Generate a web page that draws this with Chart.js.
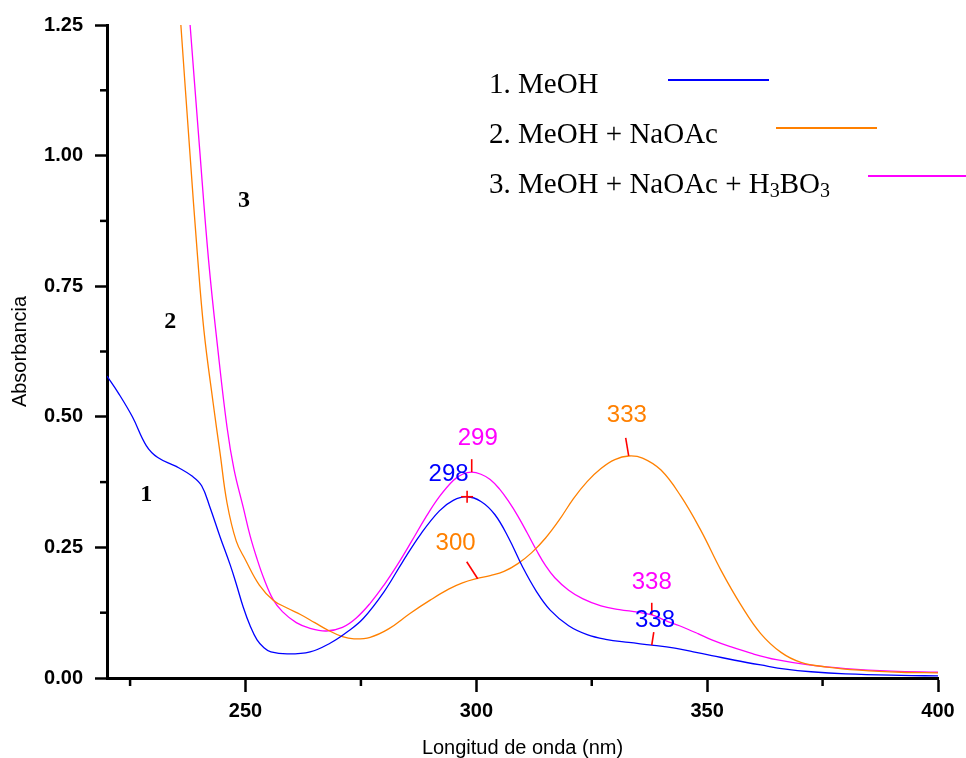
<!DOCTYPE html>
<html lang="es">
<head>
    <meta charset="UTF-8">
    <title>Espectro UV</title>
    <style>
        body { margin: 0; background: #fff; }
        canvas { display: block; }
    </style>
</head>
<body>
    <canvas id="uvChart" width="966" height="758"></canvas>
    <script src="https://cdn.jsdelivr.net/npm/chart.js"></script>
    <script>
        // 1. MeOH
        const meohNm = [220, 222.5, 225.5, 228.5, 231, 235, 238.5, 240.5, 242.3, 244.5, 246.7, 248, 249.5, 251, 252.5, 254, 255.5, 259, 264, 268.4, 272, 275.5, 280, 284, 288, 292, 295, 298, 301, 304, 307, 310, 313, 316, 320, 324, 328, 333, 338, 343, 347, 351, 356, 361.6, 367, 372.5, 380, 392, 400];
        const meohAbs = [0.578, 0.545, 0.500, 0.445, 0.422, 0.405, 0.386, 0.368, 0.327, 0.270, 0.216, 0.180, 0.136, 0.100, 0.073, 0.058, 0.050, 0.046, 0.050, 0.067, 0.088, 0.114, 0.165, 0.222, 0.276, 0.320, 0.340, 0.347, 0.338, 0.313, 0.268, 0.213, 0.166, 0.130, 0.100, 0.083, 0.074, 0.068, 0.063, 0.057, 0.050, 0.043, 0.034, 0.025, 0.017, 0.012, 0.008, 0.005, 0.004];

        // 2. MeOH + NaOAc
        const naoacNm = [235, 236, 238, 239.5, 241, 243, 244.5, 246, 248, 250, 253, 256, 259, 262, 265, 268, 271, 273.5, 277, 281, 285.7, 290, 294, 297, 300, 303, 306, 309, 312, 315, 318, 321, 324, 327, 330, 333, 336, 340, 344.3, 348.6, 353, 357.3, 361.6, 366, 370.3, 376, 383, 392, 400];
        const naoacAbs = [1.38, 1.25, 1.00, 0.82, 0.665, 0.526, 0.43, 0.335, 0.262, 0.226, 0.178, 0.149, 0.134, 0.121, 0.106, 0.091, 0.079, 0.075, 0.078, 0.094, 0.124, 0.149, 0.170, 0.182, 0.190, 0.196, 0.204, 0.219, 0.240, 0.268, 0.303, 0.343, 0.376, 0.401, 0.418, 0.425, 0.421, 0.398, 0.348, 0.283, 0.206, 0.140, 0.085, 0.049, 0.030, 0.021, 0.015, 0.011, 0.010];

        // 3. MeOH + NaOAc + H3BO3
        const boricNm = [237, 238, 240, 242, 244, 246, 247.5, 249.5, 251, 252.5, 254, 256, 258, 261, 264, 267.5, 271, 274, 277, 280, 283, 286, 289, 292, 295, 297, 299, 301, 303, 305, 307, 309, 311, 313, 315, 317, 320, 323, 327, 331, 335, 338, 341, 344, 348, 351, 355, 360, 365, 372, 380, 390, 400];
        const boricAbs = [1.36, 1.25, 1.02, 0.80, 0.63, 0.48, 0.40, 0.327, 0.272, 0.228, 0.19, 0.150, 0.127, 0.106, 0.095, 0.090, 0.097, 0.115, 0.143, 0.178, 0.218, 0.262, 0.307, 0.347, 0.378, 0.390, 0.394, 0.390, 0.380, 0.362, 0.338, 0.310, 0.278, 0.245, 0.215, 0.192, 0.168, 0.152, 0.138, 0.131, 0.126, 0.121, 0.110, 0.100, 0.085, 0.073, 0.060, 0.046, 0.035, 0.025, 0.018, 0.013, 0.011];

        const xMajor = [250, 300, 350, 400];
        const xMinor = [225, 275, 325, 375];
        const yMinor = [0.125, 0.375, 0.625, 0.875, 1.125];

        const BLUE = '#0000ff', ORANGE = '#ff8000', MAGENTA = '#ff00ff', RED = '#ff0000';
        const SANS = '"Liberation Sans", Arial, sans-serif';
        const SERIF = '"Liberation Serif", "Times New Roman", serif';

        const toPoints = (xs, ys) => xs.map((v, i) => ({ x: v, y: ys[i] }));

        // peak labels: text position and marked point in data units, tick direction in px
        const peakLabels = [
            { text: '299', color: MAGENTA, tx: 300.3, ty: 0.459, px: 299, py: 0.394, dx: 0, dy: -13 },
            { text: '298', color: BLUE, tx: 294.0, ty: 0.389, px: 298, py: 0.347, cross: true },
            { text: '300', color: ORANGE, tx: 295.5, ty: 0.258, px: 300.3, py: 0.190, dx: -11, dy: -17 },
            { text: '333', color: ORANGE, tx: 332.6, ty: 0.503, px: 333, py: 0.425, dx: -3, dy: -18 },
            { text: '338', color: MAGENTA, tx: 338.0, ty: 0.184, px: 338, py: 0.121, dx: 0, dy: -12 },
            { text: '338', color: BLUE, tx: 338.7, ty: 0.111, px: 338, py: 0.063, dx: 2, dy: -13 }
        ];
        const curveNumbers = [
            { text: '1', x: 228.5, y: 0.350 },
            { text: '2', x: 233.7, y: 0.681 },
            { text: '3', x: 249.7, y: 0.913 }
        ];

        function seg(ctx, x1, y1, x2, y2) {
            ctx.beginPath();
            ctx.moveTo(x1, y1);
            ctx.lineTo(x2, y2);
            ctx.stroke();
        }

        const overlay = {
            id: 'overlay',
            afterDraw(chart) {
                const { ctx, chartArea: a, scales: { x, y } } = chart;
                ctx.save();

                // minor ticks
                ctx.strokeStyle = '#000';
                ctx.lineWidth = 2.5;
                xMinor.forEach(v => {
                    const p = x.getPixelForValue(v);
                    seg(ctx, p, a.bottom, p, a.bottom + 8);
                });
                yMinor.forEach(v => {
                    const p = y.getPixelForValue(v);
                    seg(ctx, a.left - 7, p, a.left, p);
                });

                // peak labels + red markers
                ctx.font = '24px ' + SANS;
                ctx.textAlign = 'center';
                ctx.textBaseline = 'middle';
                peakLabels.forEach(l => {
                    ctx.fillStyle = l.color;
                    ctx.fillText(l.text, x.getPixelForValue(l.tx), y.getPixelForValue(l.ty));
                    const px = x.getPixelForValue(l.px), py = y.getPixelForValue(l.py);
                    ctx.strokeStyle = RED;
                    ctx.lineWidth = 1.6;
                    if (l.cross) {
                        seg(ctx, px - 6, py, px + 6, py);
                        seg(ctx, px, py - 6, px, py + 6);
                    } else {
                        seg(ctx, px, py, px + l.dx, py + l.dy);
                    }
                });

                // curve numbers
                ctx.fillStyle = '#000';
                ctx.font = 'bold 24px ' + SERIF;
                curveNumbers.forEach(n => {
                    ctx.fillText(n.text, x.getPixelForValue(n.x), y.getPixelForValue(n.y));
                });

                // legend
                ctx.textAlign = 'left';
                ctx.textBaseline = 'alphabetic';
                ctx.font = '29px ' + SERIF;
                const lx = a.left + 382;
                ctx.fillText('1. MeOH', lx, a.top + 68);
                ctx.fillText('2. MeOH + NaOAc', lx, a.top + 118);
                let t = '3. MeOH + NaOAc + H';
                ctx.fillText(t, lx, a.top + 168);
                let cx = lx + ctx.measureText(t).width;
                ctx.font = '20px ' + SERIF;
                ctx.fillText('3', cx, a.top + 172);
                cx += ctx.measureText('3').width;
                ctx.font = '29px ' + SERIF;
                ctx.fillText('BO', cx, a.top + 168);
                cx += ctx.measureText('BO').width;
                ctx.font = '20px ' + SERIF;
                ctx.fillText('3', cx, a.top + 172);

                ctx.lineWidth = 2;
                ctx.strokeStyle = BLUE;
                seg(ctx, a.left + 561, a.top + 55, a.left + 662, a.top + 55);
                ctx.strokeStyle = ORANGE;
                seg(ctx, a.left + 669, a.top + 103, a.left + 770, a.top + 103);
                ctx.strokeStyle = MAGENTA;
                seg(ctx, a.left + 761, a.top + 151, a.left + 862, a.top + 151);

                ctx.restore();
            }
        };

        const lineStyle = { pointRadius: 0, borderWidth: 1.3, fill: false, tension: 0.4 };

        new Chart(document.getElementById('uvChart').getContext('2d'), {
            type: 'line',
            data: {
                datasets: [
                    { label: '1. MeOH', data: toPoints(meohNm, meohAbs), borderColor: BLUE, ...lineStyle },
                    { label: '2. MeOH + NaOAc', data: toPoints(naoacNm, naoacAbs), borderColor: ORANGE, ...lineStyle },
                    { label: '3. MeOH + NaOAc + H3BO3', data: toPoints(boricNm, boricAbs), borderColor: MAGENTA, ...lineStyle }
                ]
            },
            options: {
                responsive: false,
                animation: false,
                devicePixelRatio: 1,
                layout: { padding: { top: 25, right: 28, left: 0, bottom: 0 } },
                plugins: { legend: { display: false }, tooltip: { enabled: false } },
                scales: {
                    x: {
                        type: 'linear',
                        min: 220,
                        max: 400,
                        afterBuildTicks: s => { s.ticks = xMajor.map(v => ({ value: v })); },
                        afterFit: s => { s.height = 80; },
                        border: { display: true, color: '#000', width: 3 },
                        grid: { drawOnChartArea: false, tickLength: 14, tickWidth: 2.5, tickColor: '#000' },
                        ticks: { color: '#000', padding: 7, maxRotation: 0, font: { family: SANS, size: 20, weight: 'bold' } },
                        title: { display: true, text: 'Longitud de onda (nm)', color: '#000', padding: { top: 0, bottom: 0 }, font: { family: SANS, size: 20, lineHeight: 1 } }
                    },
                    y: {
                        min: 0,
                        max: 1.25,
                        ticks: { stepSize: 0.25, color: '#000', padding: 12, font: { family: SANS, size: 20, weight: 'bold' }, callback: v => v.toFixed(2) },
                        afterFit: s => { s.width = 107; },
                        border: { display: true, color: '#000', width: 3 },
                        grid: { drawOnChartArea: false, tickLength: 12, tickWidth: 2.5, tickColor: '#000' },
                        title: { display: true, text: 'Absorbancia', color: '#000', padding: { top: 10, bottom: 0 }, font: { family: SANS, size: 20, lineHeight: 1 } }
                    }
                }
            },
            plugins: [overlay]
        });
    </script>
</body>
</html>
